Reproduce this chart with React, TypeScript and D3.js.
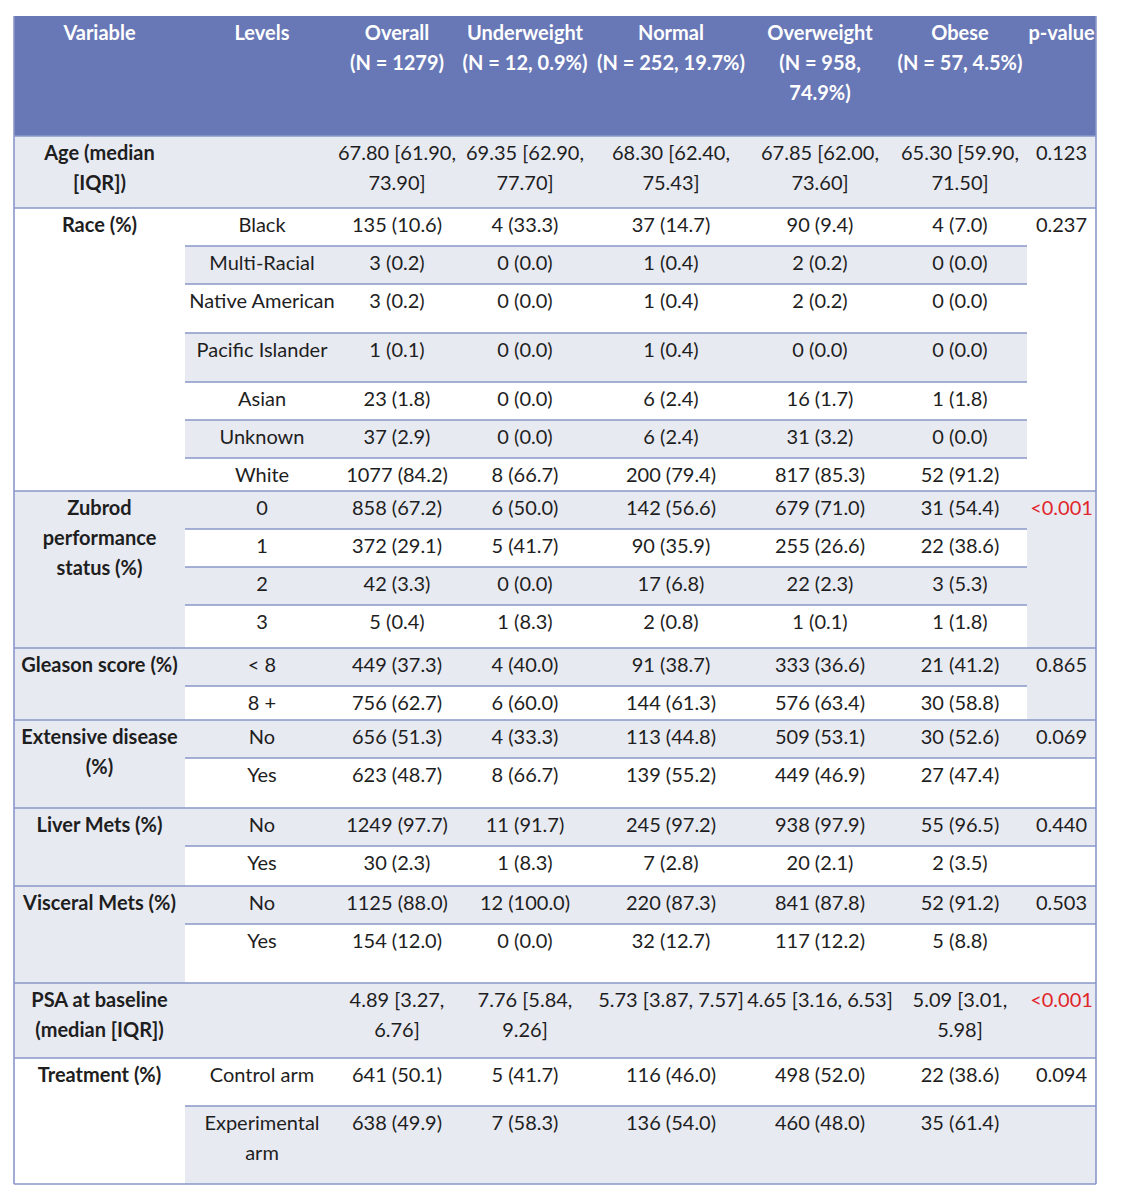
import React from "react";
import * as d3 from "d3";

// ---------- DATA ----------
const headerLabels: string[][] = [
  ["Variable"],
  ["Levels"],
  ["Overall", "(N = 1279)"],
  ["Underweight", "(N = 12, 0.9%)"],
  ["Normal", "(N = 252, 19.7%)"],
  ["Overweight", "(N = 958,", "74.9%)"],
  ["Obese", "(N = 57, 4.5%)"],
  ["p-value"],
];

const variableLabels: string[][] = [
  ["Age (median", "[IQR])"],
  ["Race (%)"],
  ["Zubrod", "performance", "status (%)"],
  ["Gleason score (%)"],
  ["Extensive disease", "(%)"],
  ["Liver Mets (%)"],
  ["Visceral Mets (%)"],
  ["PSA at baseline", "(median [IQR])"],
  ["Treatment (%)"],
];

const groupSizes = [1, 7, 4, 2, 2, 2, 2, 1, 2];
const pValues = ["0.123", "0.237", "<0.001", "0.865", "0.069", "0.440", "0.503", "<0.001", "0.094"];
const pMerged = [true, true, true, true, false, false, false, true, false];

const levels = [
  "", "Black", "Multi-Racial", "Native American", "Pacific Islander", "Asian", "Unknown", "White",
  "0", "1", "2", "3", "< 8", "8 +", "No", "Yes", "No", "Yes", "No", "Yes", "", "Control arm", "Experimental\narm",
];

const overall = [
  "67.80 [61.90,\n73.90]", "135 (10.6)", "3 (0.2)", "3 (0.2)", "1 (0.1)", "23 (1.8)", "37 (2.9)", "1077 (84.2)",
  "858 (67.2)", "372 (29.1)", "42 (3.3)", "5 (0.4)", "449 (37.3)", "756 (62.7)", "656 (51.3)", "623 (48.7)",
  "1249 (97.7)", "30 (2.3)", "1125 (88.0)", "154 (12.0)", "4.89 [3.27,\n6.76]", "641 (50.1)", "638 (49.9)",
];
const underweight = [
  "69.35 [62.90,\n77.70]", "4 (33.3)", "0 (0.0)", "0 (0.0)", "0 (0.0)", "0 (0.0)", "0 (0.0)", "8 (66.7)",
  "6 (50.0)", "5 (41.7)", "0 (0.0)", "1 (8.3)", "4 (40.0)", "6 (60.0)", "4 (33.3)", "8 (66.7)",
  "11 (91.7)", "1 (8.3)", "12 (100.0)", "0 (0.0)", "7.76 [5.84,\n9.26]", "5 (41.7)", "7 (58.3)",
];
const normal = [
  "68.30 [62.40,\n75.43]", "37 (14.7)", "1 (0.4)", "1 (0.4)", "1 (0.4)", "6 (2.4)", "6 (2.4)", "200 (79.4)",
  "142 (56.6)", "90 (35.9)", "17 (6.8)", "2 (0.8)", "91 (38.7)", "144 (61.3)", "113 (44.8)", "139 (55.2)",
  "245 (97.2)", "7 (2.8)", "220 (87.3)", "32 (12.7)", "5.73 [3.87, 7.57]", "116 (46.0)", "136 (54.0)",
];
const overweight = [
  "67.85 [62.00,\n73.60]", "90 (9.4)", "2 (0.2)", "2 (0.2)", "0 (0.0)", "16 (1.7)", "31 (3.2)", "817 (85.3)",
  "679 (71.0)", "255 (26.6)", "22 (2.3)", "1 (0.1)", "333 (36.6)", "576 (63.4)", "509 (53.1)", "449 (46.9)",
  "938 (97.9)", "20 (2.1)", "841 (87.8)", "117 (12.2)", "4.65 [3.16, 6.53]", "498 (52.0)", "460 (48.0)",
];
const obese = [
  "65.30 [59.90,\n71.50]", "4 (7.0)", "0 (0.0)", "0 (0.0)", "0 (0.0)", "1 (1.8)", "0 (0.0)", "52 (91.2)",
  "31 (54.4)", "22 (38.6)", "3 (5.3)", "1 (1.8)", "21 (41.2)", "30 (58.8)", "30 (52.6)", "27 (47.4)",
  "55 (96.5)", "2 (3.5)", "52 (91.2)", "5 (8.8)", "5.09 [3.01,\n5.98]", "22 (38.6)", "35 (61.4)",
];

// ---------- LAYOUT ----------
const W = 1122;
const H = 1202;
const colEdges = [14, 185, 339, 455, 595, 747, 893, 1027, 1096];
const tableTop = 16;
const headerH = 120;
const rowHeights = [72, 38, 38, 49, 49, 38, 38, 33, 38, 38, 38, 43, 38, 34, 38, 50, 38, 40, 38, 59, 75, 48, 78];
const lineGap = 30;
const firstLineOffset = 16;

const HEADER_FILL = "#6877b6";
const SHADE = "#e8eaf2";
const LINE = "#8a97c9";
const TEXT = "#1e1e1e";
const RED = "#e0262a";
const FONT = "Lato, 'Open Sans', sans-serif";
const FS = 20;

export default function App() {
  const colCenter = (i: number) => (colEdges[i] + colEdges[i + 1]) / 2;
  const rowTops = [tableTop + headerH, ...Array.from(d3.cumsum(rowHeights)).map((c) => tableTop + headerH + c)];
  const tableBottom = rowTops[rowTops.length - 1];
  const groupStarts = [0, ...Array.from(d3.cumsum(groupSizes))];
  const shaded = (r: number) => r % 2 === 0;
  const left = colEdges[0];
  const right = colEdges[colEdges.length - 1];
  const valueCols = [overall, underweight, normal, overweight, obese];

  const multiText = (lines: string[], x: number, yTop: number, key: string, props: any = {}) =>
    lines.map((ln, k) => (
      <text
        key={key + "-" + k}
        x={x}
        y={yTop + firstLineOffset + k * lineGap}
        textAnchor="middle"
        dominantBaseline="central"
        fontFamily={FONT}
        fontSize={FS}
        fill={TEXT}
        {...props}
      >
        {ln}
      </text>
    ));

  const fills: React.ReactNode[] = [];
  const lines: React.ReactNode[] = [];
  const texts: React.ReactNode[] = [];

  // header
  fills.push(<rect key="hdr" x={left} y={tableTop} width={right - left} height={headerH} fill={HEADER_FILL} />);
  headerLabels.forEach((lbl, c) => {
    texts.push(...multiText(lbl, colCenter(c), tableTop, "h" + c, { fill: "#ffffff", fontWeight: 700 }));
  });

  groupSizes.forEach((size, g) => {
    const r0 = groupStarts[g];
    const r1 = r0 + size;
    const gTop = rowTops[r0];
    const gBot = rowTops[r1];
    // variable column
    if (shaded(r0)) {
      fills.push(<rect key={"vf" + g} x={colEdges[0]} y={gTop} width={colEdges[1] - colEdges[0]} height={gBot - gTop} fill={SHADE} />);
    }
    texts.push(...multiText(variableLabels[g], colCenter(0), gTop, "v" + g, { fontWeight: 700 }));
    // p-value column
    if (pMerged[g]) {
      if (shaded(r0)) {
        fills.push(<rect key={"pf" + g} x={colEdges[7]} y={gTop} width={colEdges[8] - colEdges[7]} height={gBot - gTop} fill={SHADE} />);
      }
    } else {
      for (let r = r0; r < r1; r++) {
        if (shaded(r)) {
          fills.push(<rect key={"pfr" + r} x={colEdges[7]} y={rowTops[r]} width={colEdges[8] - colEdges[7]} height={rowHeights[r]} fill={SHADE} />);
        }
      }
    }
    const pv = pValues[g];
    texts.push(...multiText([pv], colCenter(7), gTop, "p" + g, { fill: pv.startsWith("<") ? RED : TEXT }));

    // level rows
    for (let r = r0; r < r1; r++) {
      if (shaded(r)) {
        fills.push(<rect key={"rf" + r} x={colEdges[1]} y={rowTops[r]} width={colEdges[7] - colEdges[1]} height={rowHeights[r]} fill={SHADE} />);
      }
      if (levels[r]) texts.push(...multiText(levels[r].split("\n"), colCenter(1), rowTops[r], "l" + r));
      valueCols.forEach((col, ci) => {
        texts.push(...multiText(col[r].split("\n"), colCenter(ci + 2), rowTops[r], "c" + r + "-" + ci));
      });
      if (r > r0) {
        const xEnd = pMerged[g] ? colEdges[7] : right;
        lines.push(<line key={"il" + r} x1={colEdges[1]} x2={xEnd} y1={rowTops[r]} y2={rowTops[r]} stroke={LINE} strokeWidth={1.6} />);
      }
    }
    // group separator
    lines.push(<line key={"gl" + g} x1={left} x2={right} y1={gTop} y2={gTop} stroke={LINE} strokeWidth={1.6} />);
  });
  lines.push(<line key="bottom" x1={left} x2={right} y1={tableBottom} y2={tableBottom} stroke={LINE} strokeWidth={1.6} />);
  lines.push(<line key="lb" x1={left} x2={left} y1={tableTop} y2={tableBottom} stroke={LINE} strokeWidth={1.6} />);
  lines.push(<line key="rb" x1={right} x2={right} y1={tableTop} y2={tableBottom} stroke={LINE} strokeWidth={1.6} />);

  return (
    <svg width={W} height={H} style={{ position: "absolute", left: 0, top: 0, background: "#ffffff" }}>
      <rect x={0} y={0} width={W} height={H} fill="#ffffff" />
      {fills}
      {lines}
      {texts}
    </svg>
  );
}
